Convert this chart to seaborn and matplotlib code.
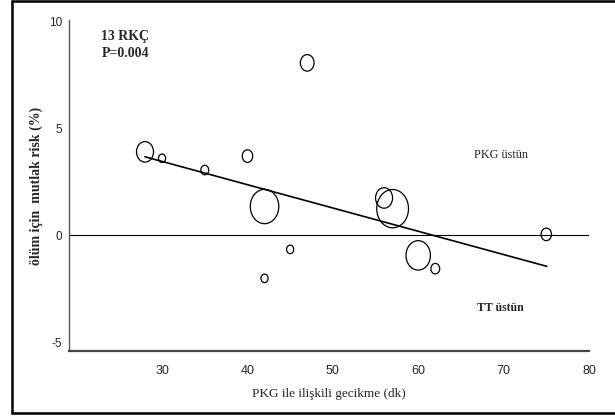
import numpy as np
import pandas as pd
import matplotlib
matplotlib.use('Agg')
import matplotlib.pyplot as plt
from matplotlib.path import Path
from matplotlib.transforms import Affine2D
from matplotlib.lines import Line2D
import seaborn as sns

# ── Data ──
delay = [28, 30, 35, 40, 42, 42, 45, 47, 56, 57, 60, 62, 75]          # PKG-related delay (min)
risk = [3.9, 3.6, 3.05, 3.7, 1.35, -2.0, -0.65, 8.05, 1.75, 1.25, -0.93, -1.55, 0.05]
weight = [441, 81, 100, 169, 1225, 81, 81, 289, 441, 1521, 900, 121, 169]  # relative study weight
fit_x = [28.0, 75.05]
fit_y = [3.67, -1.44]

x_ticks = [30, 40, 50, 60, 70, 80]
y_ticks = [-5, 0, 5, 10]

df = pd.DataFrame({'delay': delay, 'risk': risk, 'weight': weight})

sns.set_style('white')
plt.rcParams['font.family'] = ['Liberation Serif', 'DejaVu Serif']
plt.rcParams['axes.unicode_minus'] = False

fig = plt.figure(figsize=(6.15, 4.16), dpi=100)
ax = fig.add_axes([0.1122, 0.15625, 0.8455, 0.7957])

# slightly tall bubbles, as in the scanned figure
ellipse = Path.unit_circle().transformed(Affine2D().scale(0.83, 1.0))

ax.axhline(0, color='black', linewidth=0.8, zorder=1)
sns.lineplot(x=fit_x, y=fit_y, ax=ax, color='black', linewidth=1.2, zorder=2)
sns.scatterplot(data=df, x='delay', y='risk', size='weight', sizes=(38, 760),
                marker=ellipse, facecolor='none', edgecolor='black',
                linewidth=0.9, legend=False, ax=ax, zorder=3)

ax.set_xlim(19.1, 80.0)
ax.set_ylim(-5.39, 10.05)
ax.set_xticks(x_ticks)
ax.set_yticks(y_ticks)
for lab in ax.get_xticklabels():
    lab.set_fontfamily('Liberation Sans')
    lab.set_fontsize(9)
for lab in ax.get_yticklabels():
    lab.set_fontfamily('Liberation Sans')
    lab.set_fontsize(8.5)
ax.tick_params(axis='x', direction='out', length=4, width=1, color='#555555', pad=6)
ax.tick_params(axis='y', direction='out', length=3, width=1, color='#555555', pad=2)

for side in ['top', 'right']:
    ax.spines[side].set_visible(False)
ax.spines['bottom'].set_linewidth(1.6)
ax.spines['bottom'].set_color('#444444')
ax.spines['left'].set_linewidth(1.0)
ax.spines['left'].set_color('#555555')

ax.set_xlabel('PKG ile ilişkili gecikme (dk)', fontsize=9.5, labelpad=8)
ax.set_ylabel('ölüm için  mutlak risk (%)', fontsize=10, fontweight='bold', labelpad=4)

ax.text(22.9, 9.3, '13 RKÇ', fontsize=10, fontweight='bold', va='center', ha='left')
ax.text(22.9, 8.5, 'P=0.004', fontsize=10, fontweight='bold', va='center', ha='left')
ax.text(69.7, 3.77, 'PKG üstün', fontsize=8.8, va='center', ha='center')
ax.text(69.6, -3.39, 'TT üstün', fontsize=8.5, fontweight='bold', va='center', ha='center')

# outer frame of the figure (open on the right, as in the scan)
for xs, ys in [([0.0195, 1.0], [0.9976, 0.9976]),
               ([0.0195, 0.0195], [0.0072, 0.9976]),
               ([0.0195, 1.0], [0.0072, 0.0072])]:
    fig.add_artist(Line2D(xs, ys, transform=fig.transFigure, color='black', linewidth=1.8))

fig.savefig('out.png', dpi=100)
